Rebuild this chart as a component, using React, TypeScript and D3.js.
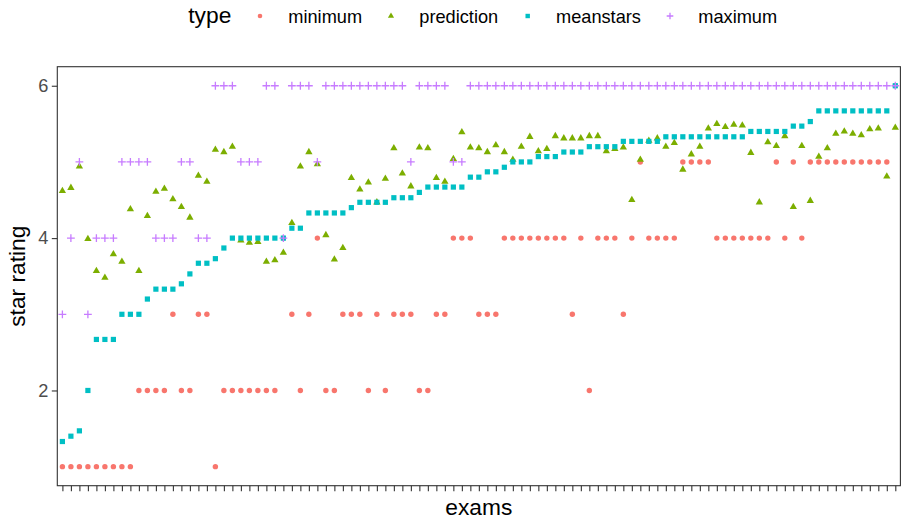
import React, { useEffect, useRef } from 'react';
import * as d3 from 'd3';

// one value per exam
const minimum = [
  1, 1, 1, 1, 1, 1, 1, 1, 1, 2, 2, 2, 2, 3, 2, 2, 3, 3, 1, 2,
  2, 2, 2, 2, 2, 2, 4, 3, 2, 3, 4, 2, 2, 3, 3, 3, 2, 3, 2, 3,
  3, 3, 2, 2, 3, 3, 4, 4, 4, 3, 3, 3, 4, 4, 4, 4, 4, 4, 4, 4,
  3, 4, 2, 4, 4, 4, 3, 4, 5, 4, 4, 4, 4, 5, 5, 5, 5, 4, 4, 4,
  4, 4, 4, 4, 5, 4, 5, 4, 5, 5, 5, 5, 5, 5, 5, 5, 5, 5, 6,
];
const prediction = [
  4.62, 4.66, 4.94, 3.99, 3.57, 3.48, 3.79, 3.69, 4.38, 3.57, 4.29, 4.61, 4.65, 4.51, 4.41, 4.27, 4.82, 4.74, 5.16, 5.13,
  5.2, 3.97, 3.94, 3.95, 3.69, 3.71, 3.81, 4.2, 4.94, 5.13, 4.97, 4.04, 3.72, 3.87, 4.79, 4.64, 4.73, 4.47, 4.78, 5.18,
  4.85, 4.68, 5.19, 5.18, 4.79, 4.74, 5.04, 5.39, 5.19, 5.18, 5.13, 5.22, 5.13, 5.03, 5.2, 5.33, 5.14, 5.17, 5.34, 5.31,
  5.31, 5.31, 5.34, 5.34, 5.14, 5.17, 5.19, 4.5, 5.03, 5.28, 5.31, 5.2, 5.25, 4.9, 5.1, 5.2, 5.44, 5.5, 5.46, 5.49,
  5.48, 5.12, 4.47, 5.26, 5.21, 5.34, 4.41, 5.21, 4.49, 5.07, 5.18, 5.37, 5.4, 5.37, 5.35, 5.43, 5.44, 4.81, 5.45,
];
const meanstars = [
  1.33, 1.4, 1.47, 2, 2.67, 2.67, 2.67, 3, 3, 3, 3.2, 3.33, 3.33, 3.33, 3.4, 3.53, 3.67, 3.67, 3.73, 3.87,
  4, 4, 4, 4, 4, 4, 4, 4.13, 4.13, 4.33, 4.33, 4.33, 4.33, 4.33, 4.4, 4.47, 4.47, 4.47, 4.47, 4.53,
  4.53, 4.53, 4.6, 4.67, 4.67, 4.67, 4.67, 4.67, 4.8, 4.8, 4.87, 4.87, 4.93, 5, 5, 5, 5.07, 5.07, 5.07, 5.13,
  5.13, 5.13, 5.2, 5.2, 5.2, 5.2, 5.27, 5.27, 5.27, 5.27, 5.27, 5.33, 5.33, 5.33, 5.33, 5.33, 5.33, 5.33, 5.33, 5.33,
  5.33, 5.4, 5.4, 5.4, 5.4, 5.4, 5.47, 5.47, 5.53, 5.67, 5.67, 5.67, 5.67, 5.67, 5.67, 5.67, 5.67, 5.67, 6,
];
const maximum = [
  3, 4, 5, 3, 4, 4, 4, 5, 5, 5, 5, 4, 4, 4, 5, 5, 4, 4, 6, 6,
  6, 5, 5, 5, 6, 6, 4, 6, 6, 6, 5, 6, 6, 6, 6, 6, 6, 6, 6, 6,
  6, 5, 6, 6, 6, 6, 5, 5, 6, 6, 6, 6, 6, 6, 6, 6, 6, 6, 6, 6,
  6, 6, 6, 6, 6, 6, 6, 6, 6, 6, 6, 6, 6, 6, 6, 6, 6, 6, 6, 6,
  6, 6, 6, 6, 6, 6, 6, 6, 6, 6, 6, 6, 6, 6, 6, 6, 6, 6, 6,
];
const exams = minimum.map((_, i) => `exam${i + 1}`);
const types = ['minimum', 'prediction', 'meanstars', 'maximum'];
const colors = ['#F8766D', '#7CAE00', '#00BFC4', '#C77CFF'];
const yTicks = [2, 4, 6];

const W = 901;
const H = 521;

const drawShape = (g: any, type: string, x: number, y: number, color: string, k = 1) => {
  if (type === 'minimum') {
    g.append('circle').attr('cx', x).attr('cy', y).attr('r', 2.7 * k).attr('fill', color);
  } else if (type === 'prediction') {
    g.append('path')
      .attr('transform', `translate(${x},${y})`)
      .attr('d', d3.symbol(d3.symbolTriangle, 23 * k * k)())
      .attr('fill', color);
  } else if (type === 'meanstars') {
    const s = 5.2 * k;
    g.append('rect').attr('x', x - s / 2).attr('y', y - s / 2).attr('width', s).attr('height', s).attr('fill', color);
  } else {
    const h = 3.9 * k;
    g.append('path')
      .attr('d', `M${x - h},${y}H${x + h}M${x},${y - h}V${y + h}`)
      .attr('stroke', color)
      .attr('stroke-width', 1.3)
      .attr('fill', 'none');
  }
};

export default function App() {
  const svgRef = useRef<SVGSVGElement>(null);

  useEffect(() => {
    if (!svgRef.current) return;
    const svg = d3.select(svgRef.current);
    svg.selectAll('*').remove();

    const margin = { top: 66.7, right: 0.6, bottom: 35.3, left: 57.3 };
    const x = d3.scalePoint<string>().domain(exams).range([margin.left, W - margin.right]).padding(0.6);
    const y = d3.scaleLinear().domain([0.75, 6.25]).range([H - margin.bottom, margin.top]);

    const font = "'Liberation Sans', Arial, sans-serif";

    // panel border
    svg.append('rect')
      .attr('x', margin.left)
      .attr('y', margin.top)
      .attr('width', W - margin.left - margin.right)
      .attr('height', H - margin.top - margin.bottom)
      .attr('fill', 'none')
      .attr('stroke', '#333333')
      .attr('stroke-width', 1.1);

    // axes
    const xAxis = svg.append('g')
      .attr('transform', `translate(0,${H - margin.bottom})`)
      .call(d3.axisBottom(x).tickSize(5.5).tickFormat(() => '').tickSizeOuter(0));
    xAxis.select('.domain').remove();
    xAxis.selectAll('line').attr('stroke', '#333333').attr('stroke-width', 1.1);

    const yAxis = svg.append('g')
      .attr('transform', `translate(${margin.left},0)`)
      .call(d3.axisLeft(y).tickValues(yTicks).tickFormat(d3.format('d')).tickSize(5.5).tickPadding(3.5).tickSizeOuter(0));
    yAxis.select('.domain').remove();
    yAxis.selectAll('line').attr('stroke', '#333333').attr('stroke-width', 1.1);
    yAxis.selectAll('text')
      .attr('fill', '#4D4D4D')
      .attr('font-size', 18.2)
      .attr('font-family', font);

    // points
    const series = [minimum, prediction, meanstars, maximum];
    const pts = svg.append('g');
    types.forEach((t, si) => {
      series[si].forEach((v, i) => {
        drawShape(pts, t, x(exams[i])!, y(v), colors[si]);
      });
    });

    // axis titles
    svg.append('text')
      .attr('x', (margin.left + W - margin.right) / 2)
      .attr('y', 515)
      .attr('text-anchor', 'middle')
      .attr('font-size', 22.75)
      .attr('font-family', font)
      .text('exams');

    svg.append('text')
      .attr('transform', `translate(25,${(margin.top + H - margin.bottom) / 2}) rotate(-90)`)
      .attr('text-anchor', 'middle')
      .attr('font-size', 22.75)
      .attr('font-family', font)
      .text('star rating');

    // legend
    const legend = svg.append('g');
    legend.append('text')
      .attr('x', 188.3)
      .attr('y', 22.7)
      .attr('font-size', 22.75)
      .attr('font-family', font)
      .text('type');
    const keyX = [260, 391, 527.7, 670];
    types.forEach((t, i) => {
      drawShape(legend, t, keyX[i], 16, colors[i], 0.85);
      legend.append('text')
        .attr('x', keyX[i] + 28.3)
        .attr('y', 22.5)
        .attr('font-size', 18.2)
        .attr('font-family', font)
        .attr('fill', '#000')
        .text(t);
    });
  }, []);

  return (
    <div style={{ position: 'absolute', left: 0, top: 0, width: W, height: H, background: '#fff' }}>
      <svg ref={svgRef} width={W} height={H} style={{ display: 'block' }}></svg>
    </div>
  );
}
